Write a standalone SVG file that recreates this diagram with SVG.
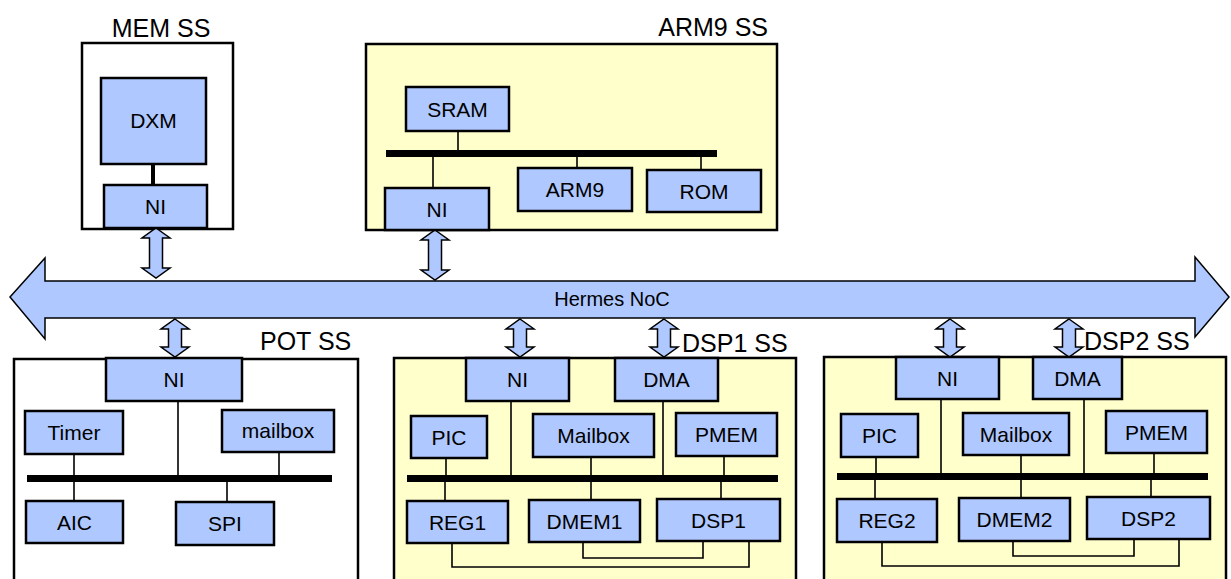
<svg xmlns="http://www.w3.org/2000/svg" width="1231" height="579" viewBox="0 0 1231 579">
<style>
.ss{fill:#ffffff;stroke:#000;stroke-width:2.5}
.ssy{fill:#ffffcc;stroke:#000;stroke-width:2.5}
.bx{fill:#afc8ff;stroke:#000;stroke-width:2.5}
.t{font-family:"Liberation Sans",Arial,sans-serif;font-size:21px;fill:#000;text-anchor:middle}
.title{font-family:"Liberation Sans",Arial,sans-serif;font-size:25px;fill:#000}
.bus{stroke:#000;stroke-width:7;fill:none}
.ln{stroke:#000;stroke-width:1.6;fill:none}
.lnk{stroke:#000;stroke-width:4;fill:none}
.arr{fill:#afc8ff;stroke:#000;stroke-width:1.5;stroke-linejoin:miter}
</style>
<defs>
<path id="dlong" d="M0,0 L14,10 L6.5,10 L6.5,40 L14,40 L0,50 L-14,40 L-6.5,40 L-6.5,10 L-14,10 Z"/>
<path id="dshort" d="M0,0 L14,10 L6.5,10 L6.5,28 L14,28 L0,38 L-14,28 L-6.5,28 L-6.5,10 L-14,10 Z"/>
</defs>

<!-- Hermes NoC -->
<g id="noc">
<path class="arr" stroke-width="2.5" d="M10,297 L45,258 L45,281 L1195,281 L1195,257 L1229,297 L1195,337 L1195,318 L45,318 L45,339 Z"/>
<text class="t" x="612" y="306" font-size="20" style="font-size:20px">Hermes NoC</text>
</g>

<!-- MEM SS -->
<g id="mem_ss">
<text class="title" x="161" y="37" text-anchor="middle">MEM SS</text>
<rect class="ss" x="82" y="43" width="151" height="186"/>
</g>
<!-- ARM9 SS -->
<g id="arm9_ss">
<text class="title" x="768" y="36" text-anchor="end">ARM9 SS</text>
<rect class="ssy" x="366" y="44" width="411" height="186"/>
</g>
<!-- POT SS -->
<g id="pot_ss">
<text class="title" x="260" y="350">POT SS</text>
<rect class="ss" x="14" y="359" width="344" height="240"/>
</g>
<!-- DSP1 SS -->
<g id="dsp1_ss">
<rect class="ssy" x="394" y="358" width="402" height="240"/>
<text class="title" x="682" y="352">DSP1 SS</text>
</g>
<!-- DSP2 SS -->
<g id="dsp2_ss">
<rect class="ssy" x="824" y="357" width="402" height="240"/>
<text class="title" x="1084" y="350">DSP2 SS</text>
</g>

<!-- connectors -->
<g id="connectors">
<line class="lnk" x1="153" y1="164" x2="153" y2="185"/>
<!-- ARM9 -->
<line class="bus" x1="386" y1="153.5" x2="717" y2="153.5"/>
<line class="ln" x1="458" y1="131" x2="458" y2="151"/>
<line class="ln" x1="433" y1="156" x2="433" y2="188"/>
<line class="ln" x1="577" y1="156" x2="577" y2="168"/>
<line class="ln" x1="701" y1="156" x2="701" y2="170"/>
<!-- POT -->
<line class="bus" x1="27" y1="478.5" x2="332" y2="478.5"/>
<line class="ln" x1="74" y1="454" x2="74" y2="501"/>
<line class="ln" x1="178" y1="401" x2="178" y2="476"/>
<line class="ln" x1="279" y1="452" x2="279" y2="476"/>
<line class="ln" x1="227" y1="481" x2="227" y2="502"/>
<!-- DSP1 -->
<line class="bus" x1="407" y1="478.5" x2="778" y2="478.5"/>
<line class="ln" x1="446" y1="458" x2="446" y2="476"/>
<line class="ln" x1="445" y1="481" x2="445" y2="501"/>
<line class="ln" x1="511" y1="401" x2="511" y2="476"/>
<line class="ln" x1="591" y1="457" x2="591" y2="500"/>
<line class="ln" x1="663" y1="401" x2="663" y2="476"/>
<line class="ln" x1="724" y1="456" x2="724" y2="476"/>
<line class="ln" x1="721" y1="481" x2="721" y2="499"/>
<polyline class="ln" points="583,542 583,558 703,558 703,541"/>
<polyline class="ln" points="452,543 452,567 749,567 749,541"/>
<!-- DSP2 -->
<line class="bus" x1="837" y1="476.5" x2="1208" y2="476.5"/>
<line class="ln" x1="876" y1="457" x2="876" y2="474"/>
<line class="ln" x1="875" y1="479" x2="875" y2="499"/>
<line class="ln" x1="941" y1="399" x2="941" y2="474"/>
<line class="ln" x1="1021" y1="455" x2="1021" y2="498"/>
<line class="ln" x1="1084" y1="399" x2="1084" y2="474"/>
<line class="ln" x1="1154" y1="453" x2="1154" y2="474"/>
<line class="ln" x1="1151" y1="479" x2="1151" y2="497"/>
<polyline class="ln" points="1013,541 1013,556 1134,556 1134,539"/>
<polyline class="ln" points="882,542 882,566 1179,566 1179,539"/>
<!-- NoC links -->
<use href="#dlong" class="arr" transform="translate(156,228)"/>
<use href="#dlong" class="arr" transform="translate(435,230)"/>
<use href="#dshort" class="arr" transform="translate(175,319)"/>
<use href="#dshort" class="arr" transform="translate(520,319)"/>
<use href="#dshort" class="arr" transform="translate(664,319)"/>
<use href="#dshort" class="arr" transform="translate(950,319)"/>
<use href="#dshort" class="arr" transform="translate(1069,319)"/>
</g>

<!-- MEM nodes -->
<g id="dxm"><rect class="bx" x="101" y="78" width="105" height="86"/><text class="t" x="153.5" y="128">DXM</text></g>
<g id="mem_ni"><rect class="bx" x="104" y="185" width="103" height="43"/><text class="t" x="155.5" y="214">NI</text></g>

<!-- ARM9 nodes -->
<g id="sram"><rect class="bx" x="406" y="87" width="103" height="44"/><text class="t" x="457.5" y="116.5">SRAM</text></g>
<g id="arm9_ni"><rect class="bx" x="385" y="188" width="104" height="42"/><text class="t" x="437" y="216.5">NI</text></g>
<g id="arm9"><rect class="bx" x="518" y="168" width="114" height="43"/><text class="t" x="575" y="197">ARM9</text></g>
<g id="rom"><rect class="bx" x="647" y="170" width="114" height="42"/><text class="t" x="704" y="198.5">ROM</text></g>

<!-- POT nodes -->
<g id="pot_ni"><rect class="bx" x="106" y="358" width="136" height="43"/><text class="t" x="174" y="387">NI</text></g>
<g id="timer"><rect class="bx" x="25" y="411" width="98" height="43"/><text class="t" x="74" y="440">Timer</text></g>
<g id="mailbox_pot"><rect class="bx" x="222" y="410" width="112" height="42"/><text class="t" x="278" y="438">mailbox</text></g>
<g id="aic"><rect class="bx" x="26" y="501" width="97" height="42"/><text class="t" x="74.5" y="529.5">AIC</text></g>
<g id="spi"><rect class="bx" x="176" y="502" width="98" height="43"/><text class="t" x="225" y="531">SPI</text></g>

<!-- DSP1 nodes -->
<g id="dsp1_ni"><rect class="bx" x="466" y="358" width="103" height="43"/><text class="t" x="517.5" y="387">NI</text></g>
<g id="dsp1_dma"><rect class="bx" x="615" y="358" width="103" height="43"/><text class="t" x="666.5" y="387">DMA</text></g>
<g id="dsp1_pic"><rect class="bx" x="411" y="416" width="76" height="42"/><text class="t" x="449" y="444.5">PIC</text></g>
<g id="dsp1_mailbox"><rect class="bx" x="533" y="414" width="121" height="43"/><text class="t" x="593.5" y="443">Mailbox</text></g>
<g id="dsp1_pmem"><rect class="bx" x="676" y="413" width="101" height="43"/><text class="t" x="726.5" y="442">PMEM</text></g>
<g id="reg1"><rect class="bx" x="407" y="501" width="101" height="42"/><text class="t" x="457.5" y="529.5">REG1</text></g>
<g id="dmem1"><rect class="bx" x="529" y="500" width="111" height="42"/><text class="t" x="584.5" y="528.5">DMEM1</text></g>
<g id="dsp1"><rect class="bx" x="657" y="499" width="123" height="42"/><text class="t" x="718.5" y="527.5">DSP1</text></g>

<!-- DSP2 nodes -->
<g id="dsp2_ni"><rect class="bx" x="896" y="357" width="103" height="42"/><text class="t" x="947.5" y="385.5">NI</text></g>
<g id="dsp2_dma"><rect class="bx" x="1033" y="357" width="89" height="42"/><text class="t" x="1077.5" y="385.5">DMA</text></g>
<g id="dsp2_pic"><rect class="bx" x="841" y="414" width="77" height="43"/><text class="t" x="879.5" y="443">PIC</text></g>
<g id="dsp2_mailbox"><rect class="bx" x="963" y="413" width="106" height="42"/><text class="t" x="1016" y="441.5">Mailbox</text></g>
<g id="dsp2_pmem"><rect class="bx" x="1106" y="411" width="101" height="42"/><text class="t" x="1156.5" y="439.5">PMEM</text></g>
<g id="reg2"><rect class="bx" x="837" y="499" width="100" height="43"/><text class="t" x="887" y="528">REG2</text></g>
<g id="dmem2"><rect class="bx" x="959" y="498" width="111" height="43"/><text class="t" x="1014.5" y="527">DMEM2</text></g>
<g id="dsp2"><rect class="bx" x="1087" y="497" width="123" height="42"/><text class="t" x="1148.5" y="525.5">DSP2</text></g>
</svg>
